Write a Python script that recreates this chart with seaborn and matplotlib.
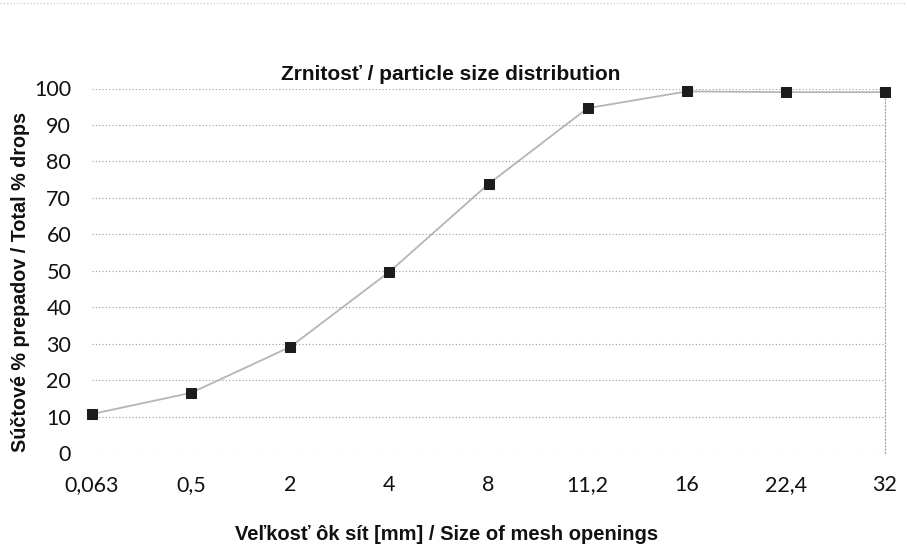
import matplotlib
matplotlib.use("Agg")
import matplotlib.pyplot as plt
import seaborn as sns
import pandas as pd
from matplotlib.lines import Line2D

sizes = ["0,063", "0,5", "2", "4", "8", "11,2", "16", "22,4", "32"]
passing = [10.7, 16.5, 29.1, 49.7, 73.8, 94.6, 99.2, 99.0, 99.0]
yticks = [0, 10, 20, 30, 40, 50, 60, 70, 80, 90, 100]

title = "Zrnitosť / particle size distribution"
xlabel = "Veľkosť ôk sít [mm] / Size of mesh openings"
ylabel = "Súčtové % prepadov / Total % drops"

df = pd.DataFrame({"size": sizes, "pct": passing})

sns.set_theme(style="white")
plt.rcParams["font.family"] = ["Liberation Sans", "DejaVu Sans"]

W, H = 907, 559
fig = plt.figure(figsize=(W / 100, H / 100), dpi=100)
ax = fig.add_axes([92 / W, 1 - 453 / H, (885 - 92) / W, (453 - 88.5) / H])

sns.lineplot(data=df, x="size", y="pct", sort=False, ax=ax,
             color="#b5b5b5", linewidth=1.3, marker="s", markersize=6.5,
             markerfacecolor="#1c1c1c", markeredgecolor="#1c1c1c",
             clip_on=False, zorder=3)

ax.set_xlim(0, len(sizes) - 1)
ax.set_ylim(0, 100)
ax.set_yticks(yticks)
ax.set_yticklabels([str(v) for v in yticks])
ax.yaxis.grid(True, color="#9a9a9a", linestyle=(0, (1, 2)), linewidth=0.8)
ax.xaxis.grid(False)
for s in ["top", "left", "bottom"]:
    ax.spines[s].set_visible(False)
ax.spines["right"].set_visible(True)
ax.spines["right"].set_color("#a0a0a0")
ax.spines["right"].set_linestyle((0, (1, 2)))
ax.spines["right"].set_linewidth(0.8)

tick_font = ["Lato", "DejaVu Sans"]
ax.tick_params(axis="y", length=0, pad=15, labelsize=15.5, labelcolor="#111111")
ax.tick_params(axis="x", length=0, pad=16, labelsize=15.5, labelcolor="#111111")
for lab in ax.get_xticklabels() + ax.get_yticklabels():
    lab.set_family(tick_font)
ax.set_xlabel("")
ax.set_ylabel("")

fig.text(451 / W, 1 - 75 / H, title, ha="center", va="center",
         fontsize=15, fontweight="bold", color="#111111")
fig.text(447 / W, 1 - 535 / H, xlabel, ha="center", va="center",
         fontsize=14.5, fontweight="bold", color="#111111")
fig.text(21 / W, 1 - 282 / H, ylabel, ha="center", va="center", rotation=90,
         fontsize=14.2, fontweight="bold", color="#111111")

fig.add_artist(Line2D([0.0, 1.0], [0.994, 0.994], transform=fig.transFigure,
                      color="#c0c0c0", linestyle=(0, (1, 2)), linewidth=0.8))

fig.savefig("out.png", dpi=100, facecolor="white")
